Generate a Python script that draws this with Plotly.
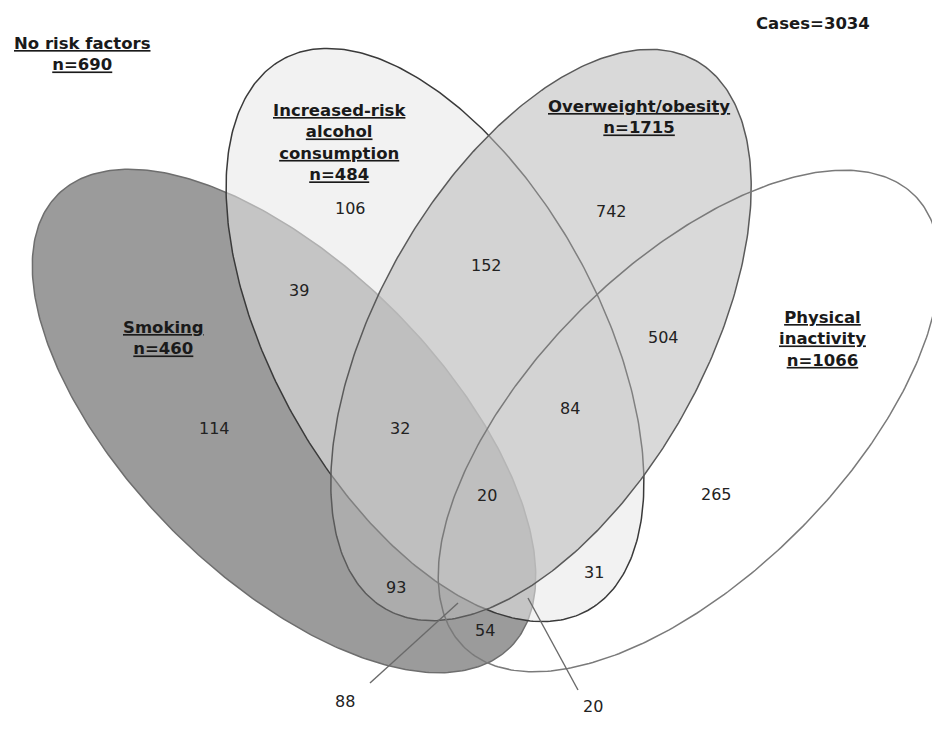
import numpy as np
import plotly.graph_objects as go

# ---- data ----
set_names = ["Smoking", "Increased-risk<br>alcohol<br>consumption", "Overweight/obesity", "Physical<br>inactivity"]
set_sizes = [460, 484, 1715, 1066]
no_risk_n = 690
total_cases = 3034
region_counts = [106, 39, 152, 742, 504, 114, 32, 84, 20, 265, 93, 31, 54, 88, 20]

# ---- layout (screen pixel positions, y downwards) ----
region_xy = [(350, 208), (299, 290), (486, 265), (611, 211), (663, 337), (214, 428),
             (400, 428), (570, 408), (487, 495), (716, 494), (396, 587), (594, 572),
             (485, 630), (345, 701), (593, 706)]
set_label_xy = [(163, 338), (339, 142), (639, 117), (822, 339)]
leaders = [((370, 683), (458, 603)), ((578, 690), (528, 598))]
ellipses = [  # cx, cy, a, b, angle(deg), fill, line
    (284, 421, 320, 156, 45, "rgba(155,155,155,1)", "#6e6e6e"),
    (435, 335, 315, 163, 61, "rgba(232,232,232,0.55)", "#3a3a3a"),
    (541, 335, 315, 163, 119.5, "rgba(186,186,186,0.55)", "#5a5a5a"),
    (689, 421, 319, 155, 135, "rgba(255,255,255,0)", "#7a7a7a"),
]

FONT = "DejaVu Sans"
fig = go.Figure()
t = np.linspace(0, 2 * np.pi, 400)
for cx, cy, a, b, ang, fill, line in ellipses:
    th = np.deg2rad(ang)
    x = cx + a * np.cos(t) * np.cos(th) - b * np.sin(t) * np.sin(th)
    y = cy + a * np.cos(t) * np.sin(th) + b * np.sin(t) * np.cos(th)
    fig.add_trace(go.Scatter(x=x, y=y, mode="lines", fill="toself", fillcolor=fill,
                             line=dict(color=line, width=1.5), hoverinfo="skip",
                             showlegend=False))

for (p0, p1) in leaders:
    fig.add_trace(go.Scatter(x=[p0[0], p1[0]], y=[p0[1], p1[1]], mode="lines",
                             line=dict(color="#6a6a6a", width=1.4), hoverinfo="skip",
                             showlegend=False))

ann = []
for (x, y), v in zip(region_xy, region_counts):
    ann.append(dict(x=x, y=y, text=str(v), showarrow=False,
                    font=dict(family=FONT, size=16, color="#222")))

for (x, y), name, n in zip(set_label_xy, set_names, set_sizes):
    lines = name.split("<br>") + [f"n={n}"]
    txt = "<br>".join(f"<b><u>{l}</u></b>" for l in lines)
    ann.append(dict(x=x, y=y, text=txt, showarrow=False, align="center",
                    font=dict(family=FONT, size=16.5, color="#1a1a1a")))

ann.append(dict(x=82, y=54, text=f"<b><u>No risk factors</u></b><br><b><u>n={no_risk_n}</u></b>",
                showarrow=False, align="center", font=dict(family=FONT, size=16.5, color="#1a1a1a")))
ann.append(dict(x=813, y=23, text=f"<b>Cases={total_cases}</b>", showarrow=False,
                font=dict(family=FONT, size=16.5, color="#1a1a1a")))

fig.update_layout(
    width=932, height=735, margin=dict(l=0, r=0, t=0, b=0),
    paper_bgcolor="white", plot_bgcolor="white",
    xaxis=dict(range=[0, 932], visible=False, fixedrange=True),
    yaxis=dict(range=[735, 0], visible=False, fixedrange=True),
    annotations=ann, showlegend=False,
)
fig.write_html("out.html", config={"displayModeBar": False},
               post_script="document.body.style.margin='0px';document.body.style.overflow='hidden';")
